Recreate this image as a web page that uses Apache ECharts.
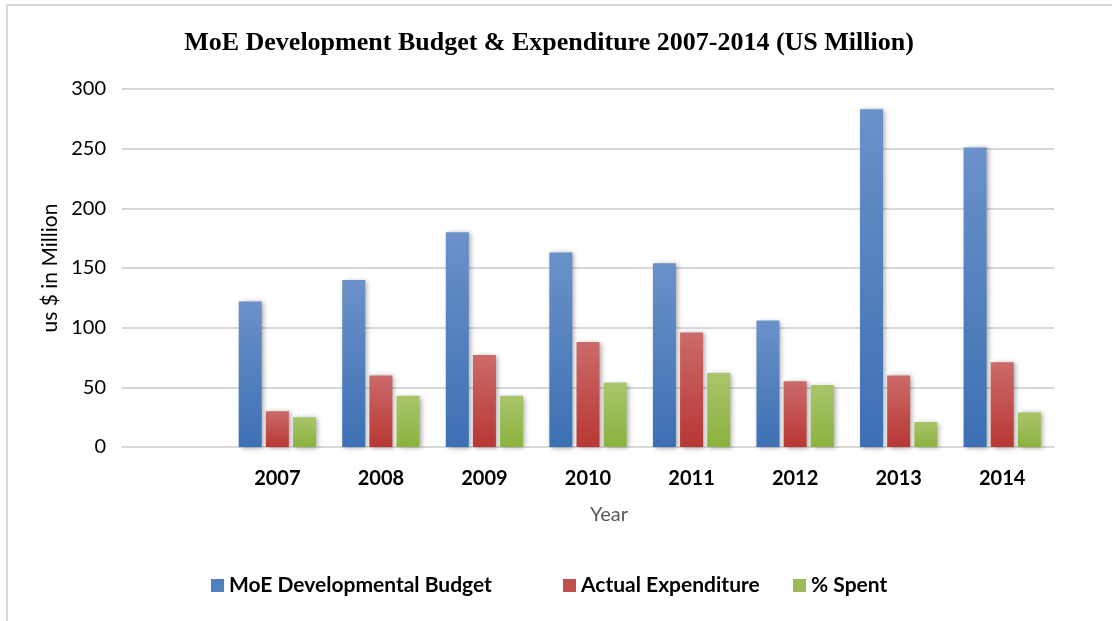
<!DOCTYPE html>
<html>
<head>
<meta charset="utf-8">
<script src="https://cdn.jsdelivr.net/npm/echarts@6/dist/echarts.min.js"></script>
<style>
  html, body { margin: 0; padding: 0; background: #ffffff; }
  #chart { width: 1112px; height: 621px; }
</style>
</head>
<body>
<div id="chart"></div>
<script>
// Category slots: the leading blank slot keeps the first group away from the y axis
const years = ['', '2007', '2008', '2009', '2010', '2011', '2012', '2013', '2014'];
const budget = [null, 122, 140, 180, 163, 154, 106, 283, 251];
const expenditure = [null, 30, 60, 77, 88, 96, 55, 60, 71];
const spent = [null, 25, 43, 43, 54, 62, 52, 21, 29];
const yTicks = { min: 0, max: 300, step: 50 };

const seriesNames = ['MoE Developmental Budget', 'Actual Expenditure', '% Spent'];
const sans = 'Lato, "Open Sans", sans-serif';

function grad(top, bottom) {
  return new echarts.graphic.LinearGradient(0, 0, 0, 1, [
    { offset: 0, color: top },
    { offset: 1, color: bottom }
  ]);
}

const palette = [
  grad('#6b91c9', '#3c70b4'),
  grad('#cb6b69', '#b83734'),
  grad('#a9c56c', '#8bb23d')
];
const legendSwatch = ['#4f81bd', '#c0504d', '#9bbb59'];

function barSeries(name, data, idx) {
  return {
    name: name,
    type: 'bar',
    data: data,
    barWidth: 23,
    barGap: '18%',
    itemStyle: {
      color: palette[idx],
      shadowColor: 'rgba(0,0,0,0.35)',
      shadowBlur: 5,
      shadowOffsetX: 2,
      shadowOffsetY: 1
    },
    emphasis: { disabled: true }
  };
}

const chart = echarts.init(document.getElementById('chart'), null, { renderer: 'canvas' });

const legendText = { fontFamily: sans, fontWeight: 'bold', fontSize: 21, color: '#000000' };
function legendAt(i, left) {
  return {
    data: [{ name: seriesNames[i], itemStyle: { color: legendSwatch[i] } }],
    left: left,
    top: 570,
    itemWidth: 13,
    itemHeight: 13,
    itemGap: 0,
    icon: 'rect',
    textStyle: legendText,
    selectedMode: false
  };
}

chart.setOption({
  animation: false,
  backgroundColor: '#ffffff',
  title: {
    text: 'MoE Development Budget & Expenditure 2007-2014 (US Million)',
    left: 544,
    textAlign: 'center',
    top: 25,
    textStyle: {
      fontFamily: '"Liberation Serif", "Times New Roman", serif',
      fontWeight: 'bold',
      fontSize: 26,
      color: '#000000'
    }
  },
  legend: [legendAt(0, 206), legendAt(1, 558), legendAt(2, 788)],
  grid: { left: 122, right: 58, top: 89, bottom: 174, containLabel: false },
  xAxis: {
    type: 'category',
    data: years,
    axisTick: { show: false },
    axisLine: { lineStyle: { color: '#d9d9d9', width: 2 } },
    axisLabel: {
      margin: 22,
      fontFamily: sans,
      fontWeight: 'bold',
      fontSize: 20,
      color: '#000000'
    }
  },
  yAxis: {
    type: 'value',
    min: yTicks.min,
    max: yTicks.max,
    interval: yTicks.step,
    name: 'us $ in Million',
    nameLocation: 'middle',
    nameGap: 58,
    nameRotate: 90,
    nameTextStyle: { fontFamily: sans, fontSize: 21, color: '#000000' },
    axisLine: { show: false },
    axisTick: { show: false },
    axisLabel: { margin: 16, fontFamily: sans, fontSize: 20, color: '#000000' },
    splitLine: { lineStyle: { color: '#d9d9d9', width: 2 } }
  },
  graphic: [
    {
      type: 'rect',
      shape: { x: 7, y: 5, width: 1200, height: 700 },
      style: { fill: 'none', stroke: '#d9d9d9', lineWidth: 2 },
      silent: true,
      z: -1
    },
    {
      type: 'text',
      x: 609,
      y: 515,
      style: {
        text: 'Year',
        fontFamily: sans,
        fontSize: 20,
        fill: '#595959',
        align: 'center',
        verticalAlign: 'middle'
      }
    }
  ],
  series: [
    barSeries(seriesNames[0], budget, 0),
    barSeries(seriesNames[1], expenditure, 1),
    barSeries(seriesNames[2], spent, 2)
  ]
});
</script>
</body>
</html>
